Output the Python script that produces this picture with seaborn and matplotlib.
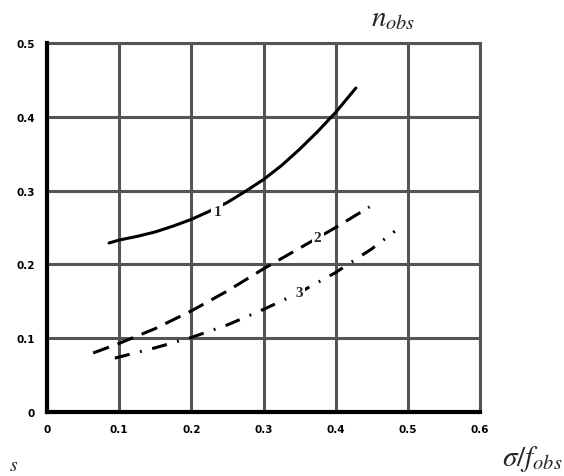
import pandas as pd
import matplotlib
matplotlib.use('Agg')
import matplotlib.pyplot as plt
from matplotlib.ticker import MultipleLocator
import seaborn as sns

# Curve data
x1 = [0.086, 0.10, 0.125, 0.15, 0.175, 0.20, 0.225, 0.25, 0.275, 0.30, 0.325, 0.35, 0.375, 0.40, 0.428]
y1 = [0.229, 0.233, 0.238, 0.244, 0.252, 0.261, 0.272, 0.284, 0.299, 0.315, 0.334, 0.356, 0.380, 0.406, 0.439]

x2 = [0.064, 0.10, 0.15, 0.20, 0.25, 0.30, 0.35, 0.40, 0.447]
y2 = [0.080, 0.093, 0.113, 0.137, 0.164, 0.194, 0.222, 0.250, 0.278]

x3 = [0.094, 0.15, 0.20, 0.25, 0.30, 0.35, 0.40, 0.42, 0.45, 0.482]
y3 = [0.073, 0.087, 0.101, 0.118, 0.139, 0.162, 0.189, 0.202, 0.221, 0.245]

curve_labels = ['1', '2', '3']
label_pos = [(0.236, 0.272), (0.375, 0.236), (0.350, 0.162)]

xticks = [0, 0.1, 0.2, 0.3, 0.4, 0.5, 0.6]
yticks = [0, 0.1, 0.2, 0.3, 0.4, 0.5]

sns.set_style('white')
plt.rcParams['mathtext.fontset'] = 'stix'

fig = plt.figure(figsize=(5.64, 4.77), dpi=100)
ax = fig.add_axes([47 / 564, 64 / 477, 433 / 564, 369 / 477])

grid_col = '#555555'
ax.grid(True, color=grid_col, linewidth=2.2)
ax.set_axisbelow(True)

df1 = pd.DataFrame({'x': x1, 'y': y1})
df2 = pd.DataFrame({'x': x2, 'y': y2})
df3 = pd.DataFrame({'x': x3, 'y': y3})

sns.lineplot(data=df1, x='x', y='y', ax=ax, color='black', linewidth=2.2)
sns.lineplot(data=df2, x='x', y='y', ax=ax, color='black', linewidth=2.2)
ax.lines[-1].set_dashes((5.5, 3))
sns.lineplot(data=df3, x='x', y='y', ax=ax, color='black', linewidth=2.2)
ax.lines[-1].set_dashes((5, 3.5, 0.6, 3.5))

for lab, (lx, ly) in zip(curve_labels, label_pos):
    ax.text(lx, ly, lab, fontsize=11, fontweight='bold', family='Liberation Serif',
            ha='center', va='center', zorder=5,
            bbox=dict(facecolor='white', edgecolor='none', pad=1.5))

ax.set_xlim(0, 0.6)
ax.set_ylim(0, 0.5)
ax.set_xticks(xticks)
ax.set_yticks(yticks)
ax.set_xticklabels(['0', '0.1', '0.2', '0.3', '0.4', '0.5', '0.6'])
ax.set_yticklabels(['0', '0.1', '0.2', '0.3', '0.4', '0.5'])
ax.yaxis.set_minor_locator(MultipleLocator(0.02))
ax.tick_params(axis='both', which='major', labelsize=7.5, length=2.5, width=2,
               direction='out', pad=6, colors='black')
ax.tick_params(axis='y', which='minor', length=1.5, width=1.5, direction='out')
for t in ax.get_xticklabels() + ax.get_yticklabels():
    t.set_fontweight('bold')
ax.set_xlabel('')
ax.set_ylabel('')

for side in ['left', 'bottom']:
    ax.spines[side].set_color('black')
    ax.spines[side].set_linewidth(3)
    ax.spines[side].set_zorder(4)
for side in ['top', 'right']:
    ax.spines[side].set_color(grid_col)
    ax.spines[side].set_linewidth(2.2)

fig.text(393 / 564, 1 - 18 / 477, r'$n_{obs}$', fontsize=21, ha='center', va='center')
fig.text(532 / 564, 1 - 459 / 477, r'$\sigma/f_{obs}$', fontsize=21, ha='center', va='center')
fig.text(14 / 564, 1 - 466 / 477, r'$s$', fontsize=14, ha='center', va='center')

fig.savefig('out.png', dpi=100)
